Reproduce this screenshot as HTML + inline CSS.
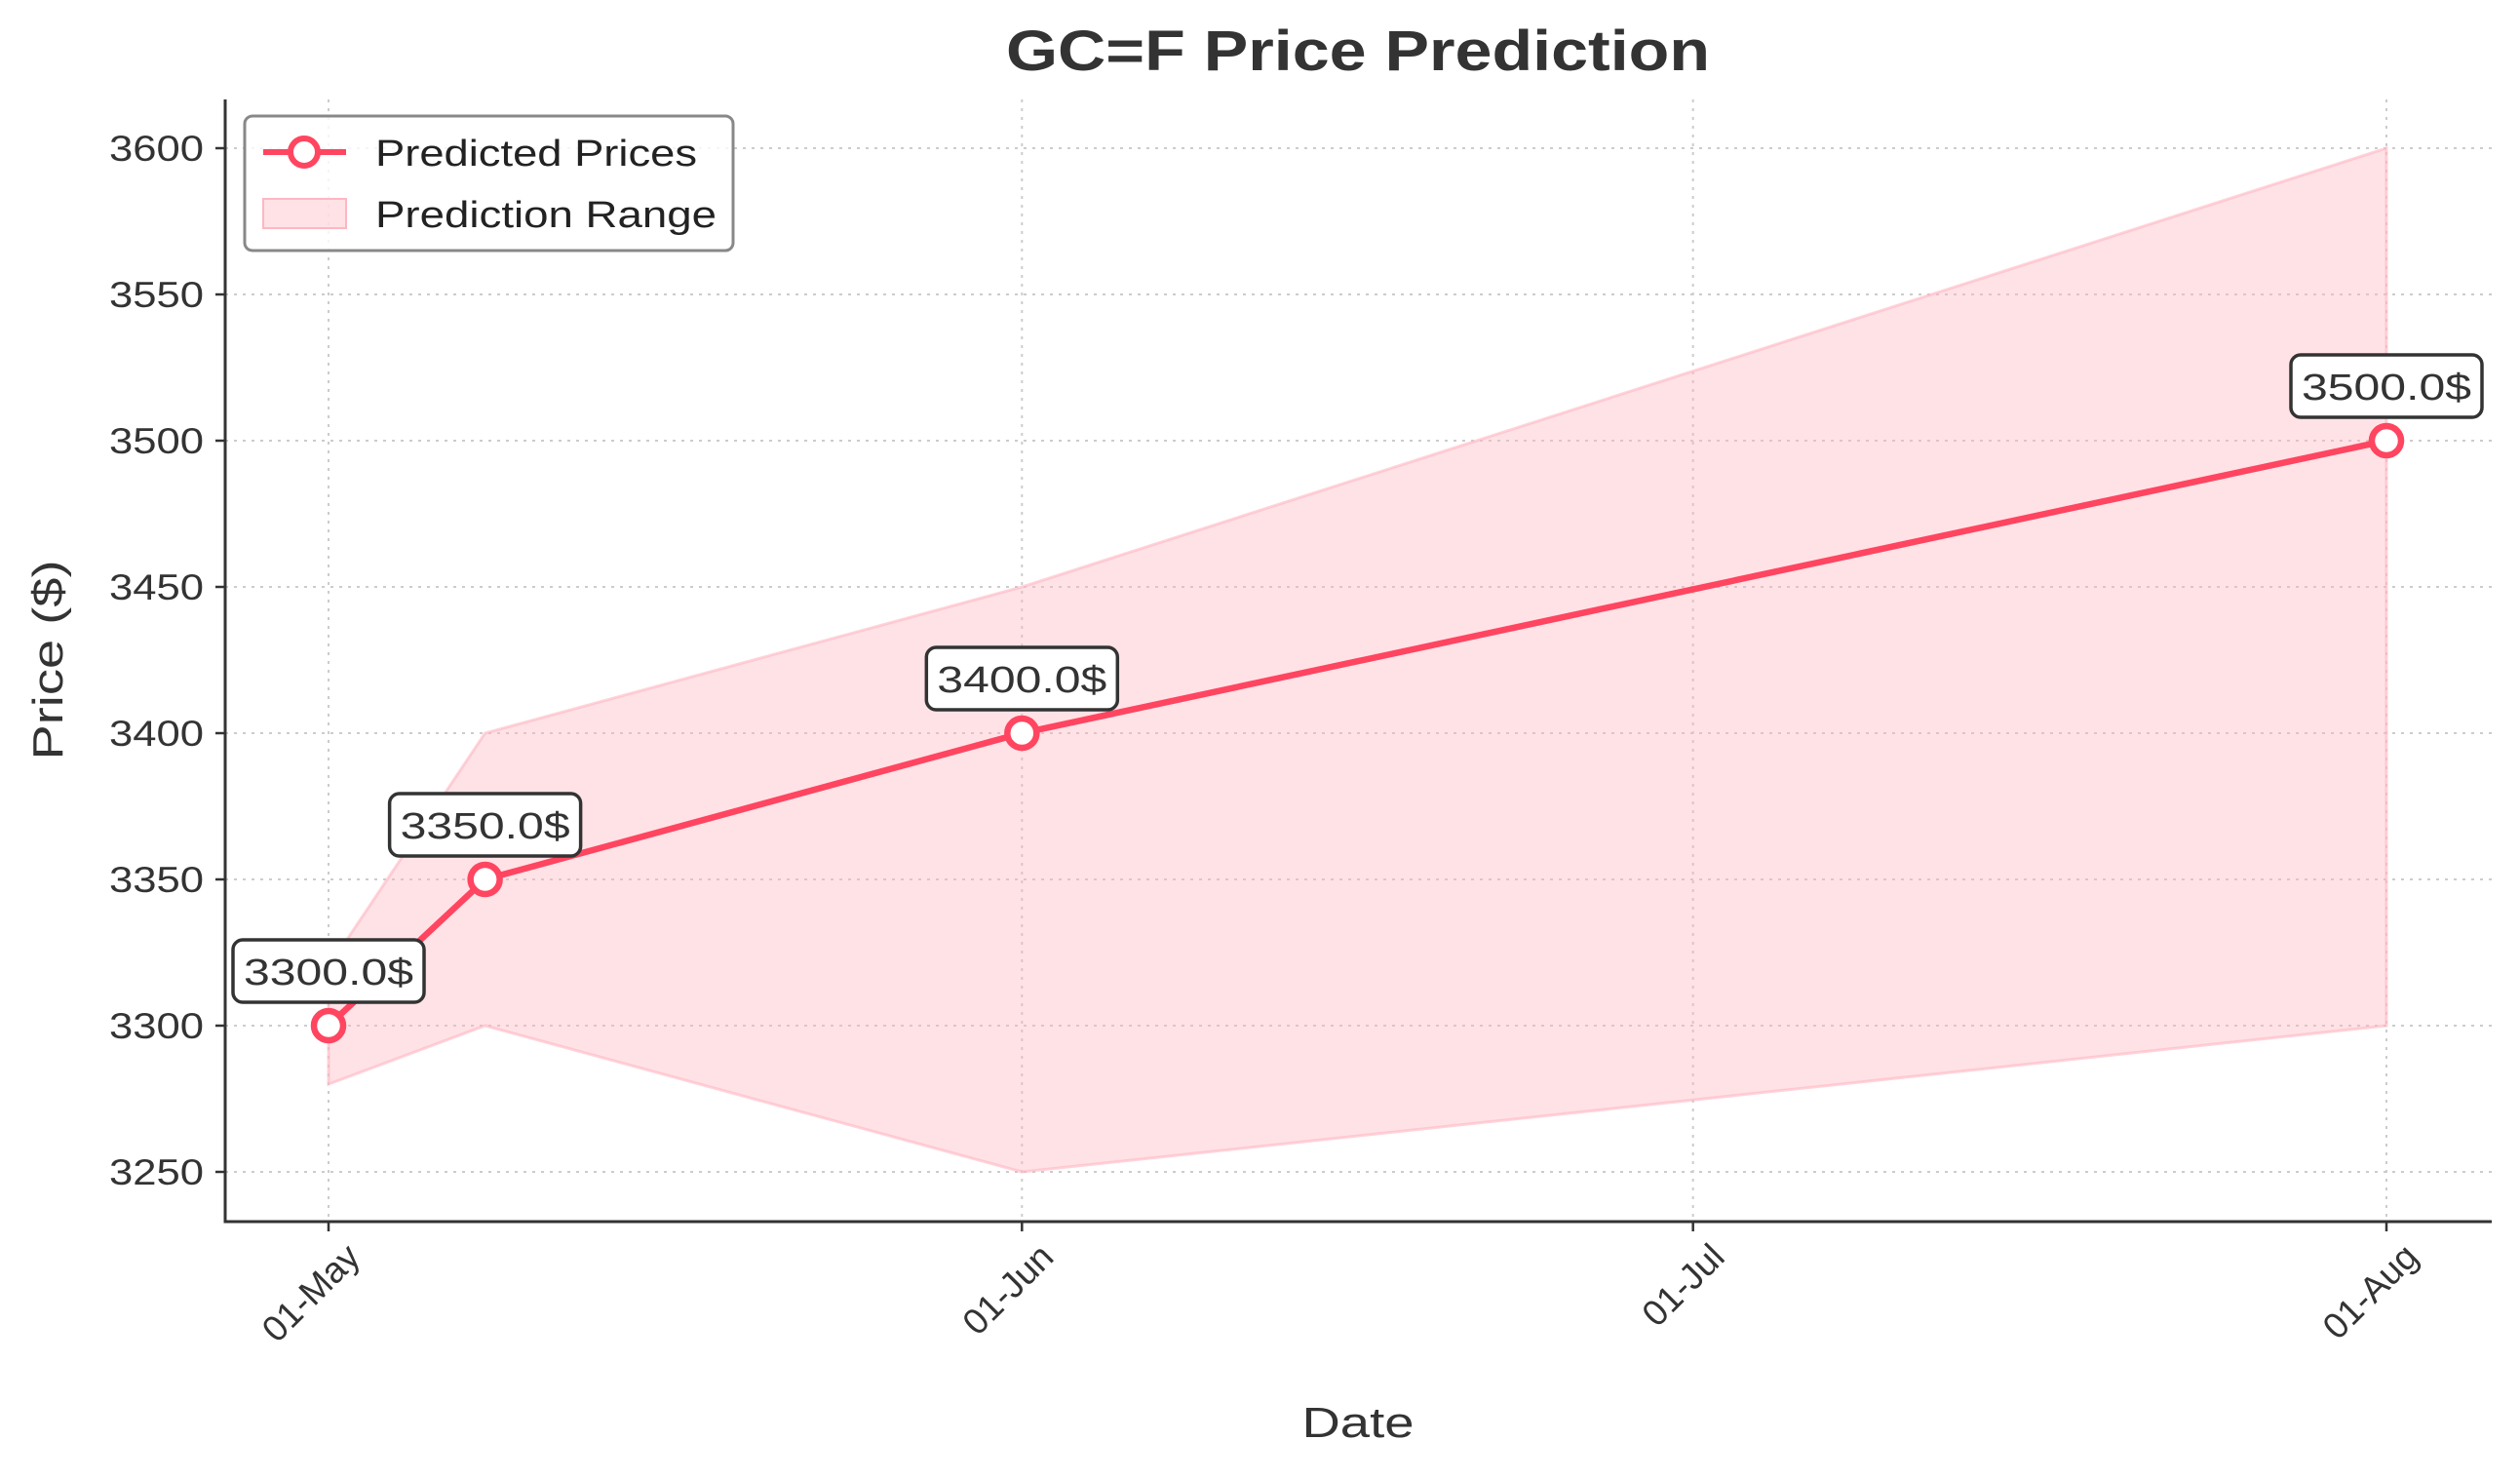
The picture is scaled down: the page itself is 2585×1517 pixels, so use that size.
<!DOCTYPE html>
<html><head><meta charset="utf-8"><style>body{margin:0;background:#fff}svg{display:block;font-family:"Liberation Sans","DejaVu Sans",sans-serif}</style></head>
<body>
<svg id="chart" width="2585" height="1517" viewBox="0 0 2585 1517" xmlns="http://www.w3.org/2000/svg">
<rect width="2585" height="1517" fill="#fff"/>
<text x="1393" y="72" text-anchor="middle" font-size="58" font-weight="bold" fill="#333" textLength="722" lengthAdjust="spacingAndGlyphs">GC=F Price Prediction</text>
<g id="grid"></g><g id="band"></g><g id="line"></g><g id="axes"></g><g id="ann"></g>
<text x="1393" y="1474" text-anchor="middle" font-size="44" fill="#333" textLength="115" lengthAdjust="spacingAndGlyphs">Date</text>
<text transform="translate(64,677) rotate(-90)" text-anchor="middle" font-size="44" fill="#333" textLength="205" lengthAdjust="spacingAndGlyphs">Price ($)</text>
<g>
<rect x="251" y="119" width="501" height="138" rx="8" fill="#fff" fill-opacity="0.8" stroke="#888" stroke-width="3"/>
<line x1="270" y1="156" x2="355" y2="156" stroke="#ff4560" stroke-width="6"/>
<circle cx="312" cy="156" r="14" fill="#fff" stroke="#ff4560" stroke-width="6"/>
<text x="385" y="170" font-size="38" fill="#222" textLength="330" lengthAdjust="spacingAndGlyphs">Predicted Prices</text>
<rect x="270" y="204" width="85" height="30" fill="#ffb6c1" fill-opacity="0.4" stroke="#ffb6c1" stroke-width="2"/>
<text x="385" y="233" font-size="38" fill="#222" textLength="350" lengthAdjust="spacingAndGlyphs">Prediction Range</text>
</g>
</svg>
<script>
const dates=["2025-05-01","2025-05-08","2025-06-01","2025-08-01"];
const predicted=[3300,3350,3400,3500];
const lower=[3280,3300,3250,3300];
const upper=[3320,3400,3450,3600];
const yTicks=[3250,3300,3350,3400,3450,3500,3550,3600];
const xTickDates=["2025-05-01","2025-06-01","2025-07-01","2025-08-01"];
const xTickLabels=["01-May","01-Jun","01-Jul","01-Aug"];
const NS="http://www.w3.org/2000/svg";
const L=231,R=2556,T=102,B=1253;
const d0=Date.parse("2025-05-01");
function X(d){return 337+(Date.parse(d)-d0)/86400000*(2448-337)/92;}
function Y(v){return 1052-(v-3300)*3;}
function mk(p,t,a){const e=document.createElementNS(NS,t);for(const k in a)e.setAttribute(k,a[k]);p.appendChild(e);return e;}
const g=document.getElementById('grid'),band=document.getElementById('band'),ln=document.getElementById('line'),ax=document.getElementById('axes'),an=document.getElementById('ann');
yTicks.forEach(v=>{const y=Y(v);
const gl=mk(g,'line',{x1:L,x2:R,y1:y,y2:y,stroke:'#ccc','stroke-width':2,'stroke-dasharray':'3 6'});

mk(ax,'line',{x1:L-10,x2:L,y1:y,y2:y,stroke:'#333','stroke-width':2.5});
const t=mk(ax,'text',{x:L-22,y:y+13,'text-anchor':'end','font-size':37,fill:'#333',textLength:97,lengthAdjust:'spacingAndGlyphs'});t.textContent=v;
});
xTickDates.forEach((d,i)=>{const x=X(d);
const gl=mk(g,'line',{x1:x,x2:x,y1:T,y2:B,stroke:'#ccc','stroke-width':2,'stroke-dasharray':'3 6'});

mk(ax,'line',{x1:x,x2:x,y1:B,y2:B+10,stroke:'#333','stroke-width':2.5});
const t=mk(ax,'text',{transform:`translate(${x+16},${B+20}) rotate(-45)`,'text-anchor':'end','font-size':37,fill:'#333',x:0,y:26});t.textContent=xTickLabels[i];
});
mk(ax,'path',{d:`M${L},${T}V${B}H${R}`,fill:'none',stroke:'#333','stroke-width':3});
let pts=dates.map((d,i)=>X(d)+','+Y(upper[i])).concat(dates.map((d,i)=>X(d)+','+Y(lower[i])).reverse());
const poly=mk(band,'polygon',{points:pts.join(' '),fill:'#ffb6c1','fill-opacity':0.4,stroke:'#ffb6c1','stroke-opacity':0.6,'stroke-width':3});

const pl=mk(ln,'polyline',{points:dates.map((d,i)=>X(d)+','+Y(predicted[i])).join(' '),fill:'none',stroke:'#ff4560','stroke-width':6.5});

dates.forEach((d,i)=>{const x=X(d),y=Y(predicted[i]);
const c=mk(ln,'circle',{cx:x,cy:y,r:15,fill:'#fff',stroke:'#ff4560','stroke-width':6.5});

const grp=mk(an,'g',{});

mk(grp,'rect',{x:x-98,y:y-88,width:196,height:64,rx:10,fill:'#fff',stroke:'#333','stroke-width':3.5});
const t=mk(grp,'text',{x:x,y:y-42,'text-anchor':'middle','font-size':38,fill:'#333',textLength:174,lengthAdjust:'spacingAndGlyphs'});t.textContent=predicted[i].toFixed(1)+'$';});
</script>
</body></html>
